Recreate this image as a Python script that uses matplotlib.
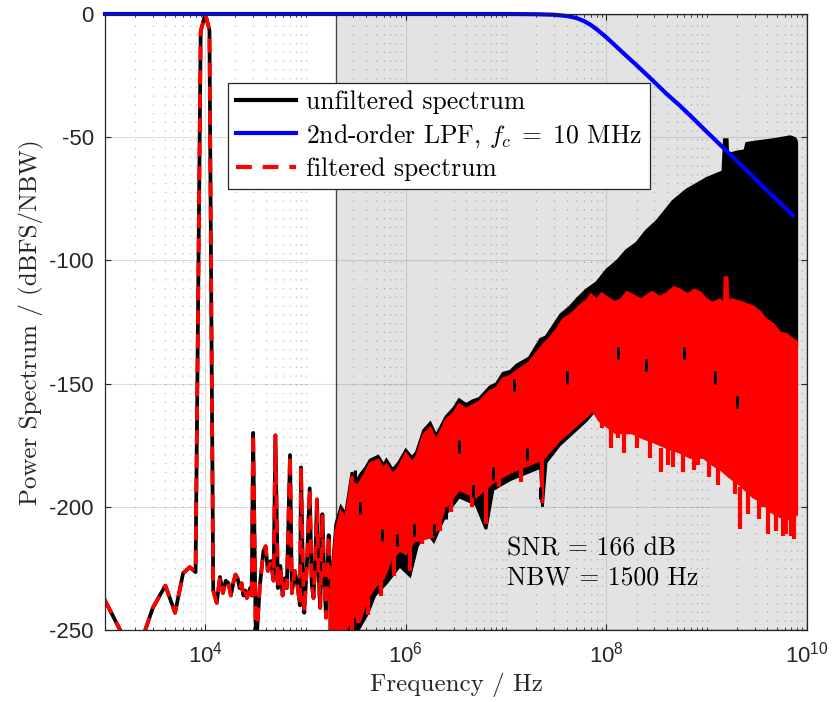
import numpy as np
import matplotlib
matplotlib.use('Agg')
import matplotlib.pyplot as plt
from matplotlib.font_manager import FontProperties
from matplotlib.lines import Line2D
from matplotlib.ticker import FixedLocator, FixedFormatter

plt.rcParams['mathtext.fontset'] = 'cm'
plt.rcParams['axes.unicode_minus'] = False

# ---------------- data ----------------
# low-frequency part of the spectrum (unfiltered == filtered here)
low_f = [1e3, 2e3, 3e3, 4e3, 5e3, 6e3, 7e3, 8e3, 9e3, 1e4, 1.1e4, 1.2e4, 1.3e4,
         1.4e4, 1.5e4, 1.6e4, 1.7e4, 1.8e4, 1.9e4, 2.0e4, 2.1e4, 2.2e4, 2.3e4,
         2.4e4, 2.5e4, 2.6e4, 2.8e4, 2.9e4, 3.0e4, 3.2e4, 3.5e4, 3.8e4, 4.0e4,
         4.2e4, 4.5e4, 4.8e4, 5.0e4, 5.3e4, 5.6e4, 5.9e4, 6.2e4, 6.5e4, 7.0e4,
         7.3e4, 7.8e4, 8.3e4, 8.8e4, 9.0e4, 9.4e4, 9.7e4, 1.03e5, 1.1e5,
         1.15e5, 1.2e5, 1.25e5, 1.3e5, 1.35e5, 1.4e5, 1.47e5, 1.53e5, 1.6e5,
         1.7e5, 1.75e5]
low_db = [-238, -262, -241, -232, -243, -227, -224.5, -226.5, -7, 0, -6.5, -234, -239,
          -228.5, -235, -230, -231, -236, -231, -227.5, -229, -233, -231,
          -236, -234, -237, -233, -236, -170, -258, -232, -218, -216,
          -226, -222, -230, -171, -233, -224, -236, -229, -233, -179,
          -235, -226, -232, -240, -184, -226, -243, -224, -192.5,
          -231, -237, -221, -197, -229, -241, -203, -227, -245,
          -211.5, -236]

# dense noise region: envelopes of the unfiltered (black) spectrum
blk_up_f = [1.75e5, 2.0e5, 2.25e5, 2.5e5, 2.9e5, 3.2e5, 3.5e5, 4.0e5, 4.4e5, 5.3e5,
            6.0e5, 6.4e5, 7.4e5, 8.5e5, 1.0e6, 1.15e6, 1.27e6, 1.5e6, 1.75e6, 2.0e6,
            2.2e6, 2.5e6, 3.0e6, 3.4e6, 4.0e6, 4.6e6, 5.4e6, 6.9e6, 8.0e6, 9.3e6,
            1.1e7, 1.27e7, 1.7e7, 2.2e7, 2.5e7, 2.9e7, 3.5e7, 4.3e7, 5.0e7, 6.3e7,
            8.0e7, 1.0e8, 1.3e8, 1.58e8, 2.0e8, 2.5e8, 3.2e8, 4.6e8, 6.3e8, 8.0e8,
            1.0e9, 1.45e9, 1.5e9, 1.6e9, 1.62e9, 2.0e9, 2.4e9, 2.5e9, 3.0e9, 4.6e9,
            6.8e9, 7.6e9, 7.9e9]
blk_up_db = [-236, -207, -200, -203, -186, -190, -187, -184, -181, -179.5,
             -183, -181, -185, -182, -177, -180, -178, -169, -166, -171,
             -168, -163.5, -160, -156.5, -158.5, -157, -156, -151.3, -150, -145.8,
             -145, -142.5, -139.5, -132, -131, -127, -122, -119, -116, -112,
             -109, -104, -100, -96, -93, -88, -84, -76, -71.4, -69,
             -66.7, -64, -51, -51, -57, -56, -55.5, -52.5, -52, -51,
             -49.8, -50.5, -52]
blk_lo_f = [1.75e5, 2.0e5, 2.5e5, 3.35e5, 4.2e5, 4.9e5, 6.4e5, 8.7e5, 1.1e6, 1.3e6,
            1.6e6, 1.9e6, 2.5e6, 3.4e6, 5.0e6, 6.3e6, 7.4e6, 1.1e7, 2.2e7, 2.3e7,
            2.5e7, 3.4e7, 6.3e7, 7.3e7, 1.0e8, 3.0e8, 1.0e9, 3.0e9, 7.9e9]
blk_lo_db = [-262, -262, -253, -250, -243, -236, -231, -224, -228, -216,
             -210, -214, -203, -196, -199, -209, -193, -189, -184, -200,
             -182, -175, -165, -162, -150, -140, -135, -132, -135]

# envelopes of the filtered (red) spectrum
red_up_f = [1.75e5, 2.0e5, 2.25e5, 2.5e5, 2.9e5, 3.2e5, 3.5e5, 4.0e5, 4.4e5, 5.3e5,
            6.0e5, 6.4e5, 7.4e5, 8.5e5, 1.0e6, 1.15e6, 1.27e6, 1.5e6, 1.75e6, 2.0e6,
            2.2e6, 2.5e6, 3.0e6, 3.4e6, 4.0e6, 4.6e6, 5.4e6, 6.9e6, 8.0e6, 9.3e6,
            1.1e7, 1.27e7, 1.7e7, 2.2e7, 2.8e7, 3.2e7, 3.7e7, 4.4e7, 5.0e7, 5.6e7,
            6.3e7, 7.0e7, 8.0e7, 9.0e7, 1.0e8, 1.2e8, 1.4e8, 1.6e8, 1.8e8, 2.2e8,
            2.85e8, 3.4e8, 4.0e8, 4.7e8, 5.4e8, 6.5e8, 7.5e8, 8.5e8, 1.0e9, 1.15e9,
            1.35e9, 1.5e9, 1.52e9, 1.6e9, 1.62e9, 1.8e9, 2.2e9, 2.9e9, 3.4e9, 3.9e9,
            4.6e9, 5.4e9, 6.2e9, 7.2e9, 7.9e9]
red_up_db = [-238, -210, -202, -205, -187.5, -192, -190, -186, -182.5, -181,
             -185, -183, -187, -184, -178.5, -182, -180, -171, -168, -173,
             -170, -165, -162, -158.5, -160.5, -159, -157.5, -153, -152, -148,
             -147, -145, -141.5, -135.6, -131, -128, -124, -122, -120, -118,
             -116.5, -114, -116, -113.5, -115, -117, -116, -113, -114, -116,
             -113, -115, -113.5, -111, -112, -114, -112, -113, -116, -117.4,
             -116, -118, -107, -107, -116, -116, -117, -118.8, -121, -124,
             -126, -129.5, -130, -132, -133]
red_lo_f = [1.75e5, 2.0e5, 2.5e5, 3.0e5, 3.5e5, 4.0e5, 5.0e5, 6.0e5, 7.0e5, 8.7e5,
            1.0e6, 1.2e6, 1.9e6, 2.5e6, 3.4e6, 5.0e6, 6.5e6, 7.4e6,
            1.1e7, 2.2e7, 2.4e7, 3.4e7, 6.3e7, 7.3e7, 8.5e7, 1.24e8, 1.8e8,
            2.3e8, 3.1e8, 4.0e8, 5.5e8, 6.9e8, 9.3e8, 1.16e9, 1.4e9, 1.7e9, 2.15e9,
            2.9e9, 3.6e9, 4.4e9, 5.4e9, 6.8e9, 7.9e9]
red_lo_db = [-260, -260, -250, -244, -246, -238, -232, -229, -222, -217.5,
             -219, -214, -212, -200, -193, -196, -192, -190,
             -186, -181, -180, -173, -163.4, -160.7, -165, -170, -170,
             -172, -174, -176, -178, -180, -180, -183, -185, -188, -191,
             -196, -198, -202, -204, -205, -203]

# narrow downward spikes of the filtered spectrum (bottom, top of each bar)
red_spk_f = [2.9e5, 3.35e5, 4.2e5, 5.6e5, 7.6e5, 1.1e6, 1.45e6, 2.2e6, 2.8e6,
             4.6e6, 6.3e6, 8.5e6, 1.4e7, 2.3e7, 9.0e7, 1.1e8, 1.3e8, 1.5e8, 2.0e8,
             2.7e8, 3.5e8, 4.1e8, 4.6e8, 5.8e8, 7.5e8, 8.2e8, 1.05e9, 1.3e9, 1.9e9,
             2.15e9, 2.6e9, 3.3e9, 3.6e9, 4.1e9, 4.9e9, 5.8e9, 6.2e9, 7.0e9, 7.5e9]
red_spk_lo = [-252, -247, -244, -236, -228, -226, -215, -210, -202,
              -200, -207, -192, -190, -198.5, -168, -176, -172, -178, -176,
              -180, -186, -183, -184, -186, -185, -183, -188, -191, -195,
              -209, -203, -205, -200, -211, -210, -212, -211, -212, -213]
red_spk_hi = [-235, -232, -230, -222, -215, -214, -205, -198, -190,
              -190, -192, -185, -182, -180, -160, -168, -166, -168, -168,
              -170, -176, -175, -175, -176, -178, -176, -180, -182, -186,
              -192, -192, -196, -193, -200, -200, -200, -202, -200, -200]

# black specks visible through the gaps of the red dashes (bottom, top)
blk_dot_f = [3.1e5, 3.5e5, 5.8e5, 8.1e5, 1.2e6, 1.9e6, 2.5e6, 3.4e6, 4.7e6,
             7.4e6, 1.2e7, 1.6e7, 2.2e7, 4.0e7, 1.3e8, 2.5e8, 6.0e8, 1.2e9, 2.0e9]
blk_dot_lo = [-190, -203, -214, -216, -212, -212, -205, -178, -196,
              -189, -153, -181, -197, -150, -140, -145, -140, -150, -160]
blk_dot_hi = [-185, -198, -209, -211, -207, -207, -200, -173, -191,
              -184, -148, -176, -192, -145, -135, -140, -135, -145, -155]

# 2nd-order low-pass filter response
lpf_f = [1e3, 1e6, 1e7, 2e7, 3e7, 4e7, 5e7, 6e7, 7e7, 8e7, 1e8, 1.3e8, 1.6e8,
         2e8, 2.5e8, 3e8, 4e8, 5.4e8, 7e8, 1e9, 1.57e9, 2e9, 3e9, 4.5e9, 7.2e9]
lpf_db = [0, 0, 0, -0.1, -0.3, -0.8, -1.6, -2.9, -4.5, -6.2, -9.5, -13.8, -17.2,
          -20.8, -24.5, -27.6, -32.5, -37.2, -41.6, -47.8, -55.5, -59.6, -66.6,
          -73.6, -81.7]

shade_start = 2e5
x_major = [1e4, 1e6, 1e8, 1e10]
x_major_labels = [r'$\mathregular{10^{4}}$', r'$\mathregular{10^{6}}$',
                  r'$\mathregular{10^{8}}$', r'$\mathregular{10^{10}}$']
y_major = [-250, -200, -150, -100, -50, 0]
y_major_labels = ['-250', '-200', '-150', '-100', '-50', '0']

legend_labels = ['unfiltered spectrum', r'2nd-order LPF, $f_c\;=\;10$ MHz',
                 'filtered spectrum']
annot_text = 'SNR = 166 dB\nNBW = 1500 Hz'

# ---------------- figure ----------------
W, H = 833, 702
fig = plt.figure(figsize=(W / 100, H / 100), dpi=100)
ax = fig.add_axes([105 / W, 1 - 630 / H, 702 / W, 616 / H])
ax.set_xscale('log')
ax.set_xlim(1e3, 1e10)
ax.set_ylim(-250, 0)

dark = '#262626'
serif = 'cmr10'
red = '#ff0000'

ax.axvspan(shade_start, 1e10, facecolor='#e3e3e3', edgecolor='#4a4a4a',
           lw=1.0, zorder=0.2)

# ticks
minor = [m * 10.0 ** d for d in range(3, 10) for m in range(1, 10)
         if not (m == 1 and d % 2 == 0)]
ax.xaxis.set_major_locator(FixedLocator(x_major))
ax.xaxis.set_major_formatter(FixedFormatter(x_major_labels))
ax.xaxis.set_minor_locator(FixedLocator(minor))
ax.xaxis.set_minor_formatter(FixedFormatter([''] * len(minor)))
ax.yaxis.set_major_locator(FixedLocator(y_major))
ax.yaxis.set_major_formatter(FixedFormatter(y_major_labels))
ax.tick_params(which='both', direction='in', top=True, right=True, color=dark,
               labelcolor=dark, labelsize=16)
ax.tick_params(which='major', length=4.5, width=0.8, pad=8)
ax.tick_params(which='minor', length=2.5, width=0.6)
for lab in ax.get_xticklabels() + ax.get_yticklabels():
    lab.set_fontfamily('Liberation Sans')

ax.set_axisbelow(True)
ax.grid(True, which='major', color=dark, alpha=0.15, lw=0.8, ls='-')
ax.grid(True, which='minor', axis='x', color=dark, alpha=0.3, lw=0.9,
        ls=(0, (1, 6)))
for s in ax.spines.values():
    s.set_color(dark)
    s.set_linewidth(0.9)
    s.set_zorder(10)

lw = 2.7
dash = (0, (3.8, 2.6))
# unfiltered spectrum (black)
ax.plot(low_f, low_db, color='k', lw=lw, zorder=3)
ax.fill(np.concatenate([blk_up_f, blk_lo_f[::-1]]),
        np.concatenate([blk_up_db, blk_lo_db[::-1]]),
        facecolor='k', edgecolor='k', lw=2.0, zorder=3)
# filtered spectrum (red)
ax.fill(np.concatenate([red_up_f, red_lo_f[::-1]]),
        np.concatenate([red_up_db, red_lo_db[::-1]]),
        facecolor=red, edgecolor=red, lw=2.0, zorder=4)
ax.vlines(red_spk_f, red_spk_lo, red_spk_hi, color=red, lw=3.0, zorder=4)
ax.vlines(blk_dot_f, blk_dot_lo, blk_dot_hi, color='k', lw=2.2, zorder=4.5)
ax.plot(low_f, low_db, color=red, lw=lw, ls=dash, zorder=4)
# filter response (blue)
ax.plot(lpf_f, lpf_db, color='#0000ff', lw=3.0, zorder=6, clip_on=False)

handles = [Line2D([], [], color='k', lw=lw + 0.3),
           Line2D([], [], color='#0000ff', lw=lw + 0.3),
           Line2D([], [], color=red, lw=lw + 0.3, ls=dash)]
leg_font = FontProperties(family=serif, size=18.5, math_fontfamily='cm')
leg = ax.legend(handles, legend_labels, loc='upper left',
                bbox_to_anchor=((228 - 105) / 702, (630 - 83) / 616),
                borderaxespad=0, prop=leg_font, fancybox=False, framealpha=1,
                edgecolor=dark, handlelength=2.35, handletextpad=0.4,
                labelspacing=0.3, borderpad=0.3)
leg.get_frame().set_linewidth(0.9)
leg.set_zorder(20)

ax.text((507 - 105) / 702, (630 - 563) / 616, annot_text, transform=ax.transAxes,
        fontfamily=serif, fontsize=18.5, va='center', ha='left', color='k',
        linespacing=1.3, zorder=20)

ax.set_xlabel('Frequency / Hz', fontfamily=serif, fontsize=18, color=dark,
              labelpad=4)
ax.set_ylabel('Power Spectrum / (dBFS/NBW)', fontfamily=serif, fontsize=18,
              color=dark, labelpad=4)

fig.savefig('out.png', dpi=100)
